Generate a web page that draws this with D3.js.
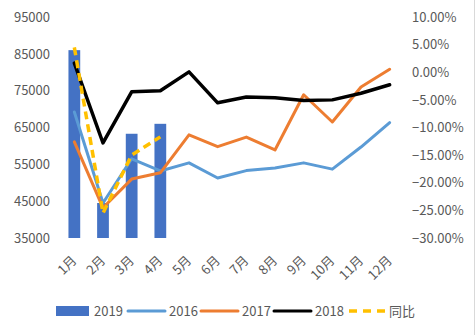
<!DOCTYPE html>
<html>
<head>
<meta charset="utf-8">
<script src="https://cdn.jsdelivr.net/npm/d3@7"></script>
<style>
  html, body { margin: 0; padding: 0; background: #fff; }
  svg { display: block; }
  text { font-family: "Noto Sans CJK SC", "DejaVu Sans", sans-serif; fill: #595959; }
</style>
</head>
<body>
<svg id="chart" width="475" height="335"></svg>
<script>
const months = ["1月","2月","3月","4月","5月","6月","7月","8月","9月","10月","11月","12月"];
const bars2019 = [86000, 44500, 63300, 66000];
const s2016 = [69200, 44500, 56500, 53200, 55400, 51300, 53300, 54000, 55400, 53700, 59700, 66300];
const s2017 = [61100, 43200, 51000, 52700, 63000, 59800, 62400, 58900, 73900, 66500, 76000, 80800];
const s2018 = [82500, 60800, 74700, 75000, 80100, 71700, 73300, 73100, 72300, 72500, 74300, 76600];
const yoy = [0.045, -0.255, -0.150, -0.117];
const leftTicks = [35000, 45000, 55000, 65000, 75000, 85000, 95000];
const rightTicks = [-0.30, -0.25, -0.20, -0.15, -0.10, -0.05, 0, 0.05, 0.10];

const colors = { b2019: "#4472C4", s2016: "#5B9BD5", s2017: "#ED7D31", s2018: "#000000", yoy: "#FFC000" };

const svg = d3.select("#chart");
const L = 60, R = 404, T = 17, B = 238;

const x = d3.scaleBand().domain(months).range([L, R]);
const yL = d3.scaleLinear().domain([35000, 95000]).range([B, T]);
const yR = d3.scaleLinear().domain([-0.30, 0.10]).range([B, T]);
const cx = m => x(m) + x.bandwidth() / 2;
const barW = x.bandwidth() * 0.41;

// border on the right edge
svg.append("line").attr("x1", 474.5).attr("x2", 474.5).attr("y1", 0).attr("y2", 335)
  .attr("stroke", "#d9d9d9").attr("stroke-width", 1);

// bars
svg.append("g").selectAll("rect").data(bars2019).join("rect")
  .attr("x", (d, i) => cx(months[i]) - barW / 2)
  .attr("width", barW)
  .attr("y", d => yL(d))
  .attr("height", d => yL(35000) - yL(d))
  .attr("fill", colors.b2019);

function drawLine(data, scale, color, width, dash) {
  const line = d3.line().x((d, i) => cx(months[i])).y(d => scale(d));
  const p = svg.append("path").datum(data).attr("d", line)
    .attr("fill", "none").attr("stroke", color).attr("stroke-width", width)
    .attr("stroke-linejoin", "round").attr("stroke-linecap", "round");
  if (dash) p.attr("stroke-dasharray", dash).attr("stroke-linecap", "butt");
}
drawLine(s2016, yL, colors.s2016, 3, null);
drawLine(s2017, yL, colors.s2017, 3, null);
drawLine(s2018, yL, colors.s2018, 3.5, null);
drawLine(yoy, yR, colors.yoy, 3.5, "8,5");

const fontFam = "'Noto Sans CJK SC', 'DejaVu Sans', sans-serif";

// left axis
const gL = svg.append("g").attr("transform", `translate(${L},0)`)
  .call(d3.axisLeft(yL).tickValues(leftTicks).tickSize(0).tickPadding(10).tickFormat(d3.format("d")));
gL.select(".domain").remove();
gL.selectAll("text").style("font-size", "13px").style("fill", "#595959").style("font-family", fontFam);

// right axis
const gR = svg.append("g").attr("transform", `translate(${R},0)`)
  .call(d3.axisRight(yR).tickValues(rightTicks).tickSize(0).tickPadding(8).tickFormat(d3.format(".2%")));
gR.select(".domain").remove();
gR.selectAll("text").style("font-size", "13px").style("fill", "#595959").style("font-family", fontFam);

// bottom axis
const gB = svg.append("g").attr("transform", `translate(0,${B})`)
  .call(d3.axisBottom(x).tickSize(0).tickPadding(0));
gB.select(".domain").remove();
gB.selectAll("text")
  .attr("x", 0).attr("y", 0).attr("dy", "0.35em")
  .attr("transform", "translate(0,20) rotate(-45)")
  .style("text-anchor", "end").style("font-size", "13px").style("fill", "#595959")
  .style("font-family", fontFam);

// legend
const lg = svg.append("g").attr("class", "legend");
const ly = 311;
const items = [
  { name: "2019", type: "rect", color: colors.b2019, x: 56 },
  { name: "2016", type: "line", color: colors.s2016, x: 128 },
  { name: "2017", type: "line", color: colors.s2017, x: 201 },
  { name: "2018", type: "line", color: colors.s2018, x: 274 },
  { name: "同比", type: "dash", color: colors.yoy, x: 348 }
];
items.forEach(it => {
  if (it.type === "rect") {
    lg.append("rect").attr("x", it.x).attr("y", ly - 5).attr("width", 33).attr("height", 10).attr("fill", it.color);
  } else {
    const l = lg.append("line").attr("x1", it.x).attr("x2", it.x + 37).attr("y1", ly).attr("y2", ly)
      .attr("stroke", it.color).attr("stroke-width", it.type === "dash" ? 3.5 : 3)
      .attr("stroke-linecap", it.type === "dash" ? "butt" : "round");
    if (it.type === "dash") l.attr("stroke-dasharray", "8,6").attr("x1", it.x + 1);
  }
  lg.append("text").attr("x", it.x + (it.type === "rect" ? 38 : 41)).attr("y", ly).attr("dy", "0.35em")
    .style("font-size", "13px").text(it.name);
});
</script>
</body>
</html>
